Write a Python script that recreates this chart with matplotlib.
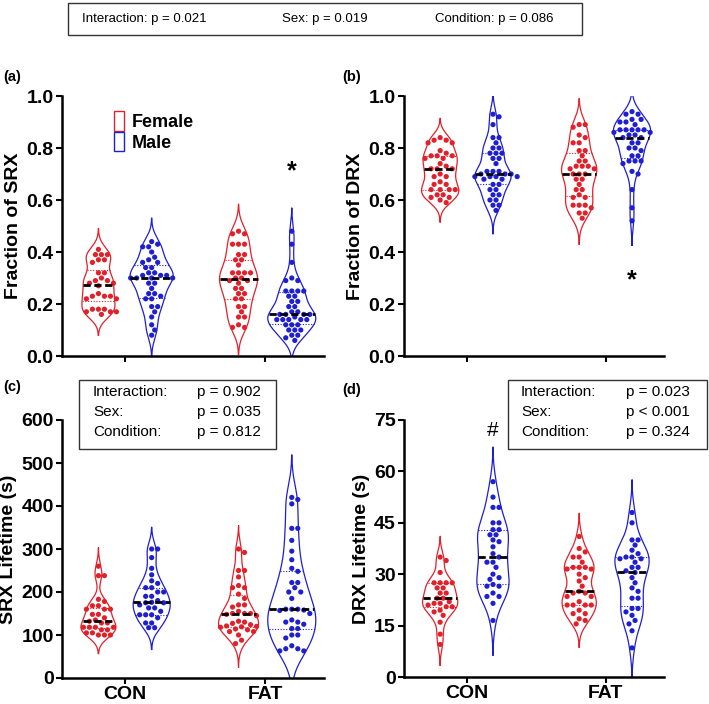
import numpy as np
import matplotlib
matplotlib.use('Agg')
import matplotlib.pyplot as plt
from matplotlib.patches import Patch, Rectangle

plt.rcParams['font.family'] = ['Liberation Sans', 'DejaVu Sans']

# ---------------- data ----------------
conditions = ['CON', 'FAT']
sexes = ['Female', 'Male']

srx_frac_female_con = [0.41, 0.39, 0.39, 0.39, 0.37, 0.37, 0.36, 0.32, 0.32, 0.30, 0.29, 0.29, 0.28, 0.28,
                       0.27, 0.24, 0.23, 0.23, 0.23, 0.22, 0.22, 0.18, 0.18, 0.18, 0.17, 0.17, 0.17, 0.16]
srx_frac_male_con = [0.44, 0.43, 0.42, 0.42, 0.40, 0.38, 0.37, 0.36, 0.36, 0.34, 0.34, 0.32, 0.32, 0.31, 0.31,
                     0.31, 0.30, 0.30, 0.30, 0.30, 0.28, 0.28, 0.26, 0.24, 0.24, 0.23, 0.22, 0.22, 0.19, 0.19,
                     0.17, 0.15, 0.12, 0.10, 0.08]
srx_frac_female_fat = [0.48, 0.47, 0.47, 0.43, 0.43, 0.43, 0.39, 0.39, 0.37, 0.37, 0.35, 0.32, 0.32, 0.32, 0.32,
                       0.30, 0.30, 0.29, 0.29, 0.28, 0.26, 0.26, 0.24, 0.24, 0.22, 0.22, 0.19, 0.19, 0.17, 0.15,
                       0.15, 0.12, 0.11, 0.11]
srx_frac_male_fat = [0.48, 0.43, 0.36, 0.30, 0.29, 0.29, 0.25, 0.25, 0.25, 0.25, 0.23, 0.23, 0.21, 0.21, 0.19,
                     0.19, 0.17, 0.17, 0.16, 0.16, 0.16, 0.16, 0.15, 0.14, 0.14, 0.14, 0.14, 0.14, 0.12, 0.12,
                     0.12, 0.10, 0.10, 0.10, 0.08, 0.08, 0.07, 0.06]

drx_frac_female_con = [0.84, 0.83, 0.83, 0.82, 0.82, 0.79, 0.78, 0.77, 0.77, 0.77, 0.76, 0.76, 0.74, 0.73, 0.72,
                       0.72, 0.72, 0.70, 0.69, 0.69, 0.67, 0.66, 0.66, 0.64, 0.64, 0.64, 0.64, 0.62, 0.62, 0.61,
                       0.61, 0.60, 0.59]
drx_frac_male_con = [0.93, 0.92, 0.89, 0.84, 0.84, 0.82, 0.80, 0.80, 0.78, 0.78, 0.78, 0.76, 0.76, 0.74, 0.71,
                     0.71, 0.71, 0.70, 0.70, 0.70, 0.69, 0.69, 0.69, 0.69, 0.68, 0.68, 0.66, 0.66, 0.64, 0.64,
                     0.62, 0.62, 0.60, 0.60, 0.58, 0.58, 0.56]
drx_frac_female_fat = [0.89, 0.89, 0.88, 0.85, 0.84, 0.82, 0.82, 0.79, 0.79, 0.77, 0.75, 0.75, 0.73, 0.73, 0.73,
                       0.72, 0.72, 0.70, 0.70, 0.70, 0.68, 0.68, 0.66, 0.64, 0.64, 0.62, 0.61, 0.61, 0.58, 0.58,
                       0.58, 0.57, 0.55, 0.55, 0.53]
drx_frac_male_fat = [0.94, 0.93, 0.93, 0.91, 0.91, 0.90, 0.90, 0.89, 0.87, 0.87, 0.87, 0.87, 0.87, 0.86, 0.86,
                     0.85, 0.85, 0.84, 0.84, 0.82, 0.82, 0.80, 0.80, 0.79, 0.77, 0.77, 0.75, 0.75, 0.75, 0.74,
                     0.71, 0.70, 0.64, 0.57, 0.52]

srx_life_female_con = [260, 238, 238, 183, 178, 168, 168, 160, 160, 160, 148, 148, 140, 135, 132, 128, 128,
                       118, 118, 118, 118, 112, 112, 105, 105, 100, 100, 100]
srx_life_male_con = [300, 300, 280, 255, 240, 226, 220, 210, 210, 200, 200, 190, 190, 180, 176, 175, 175, 170,
                     163, 163, 155, 147, 147, 147, 140, 128, 128, 117, 117]
srx_life_female_fat = [300, 292, 250, 250, 235, 215, 210, 210, 195, 185, 170, 170, 165, 155, 150, 150, 150, 148,
                       145, 132, 130, 127, 124, 121, 120, 119, 118, 114, 112, 108, 108, 100, 88, 80]
srx_life_male_fat = [420, 415, 405, 348, 348, 320, 295, 275, 255, 248, 222, 222, 210, 200, 200, 185, 160, 160,
                     160, 158, 157, 150, 135, 130, 130, 125, 115, 115, 100, 100, 93, 75, 68, 68, 63, 63]

drx_life_female_con = [35, 34, 30.5, 27.5, 27.5, 27.5, 27.5, 26, 26, 24.5, 24.5, 23, 23, 22, 21.5, 21.5,
                       21, 20.5, 20.5, 19.5, 19, 18, 16, 12.5, 9.5]
drx_life_male_con = [57, 52.5, 49.5, 49.5, 45, 45, 43, 43, 41.5, 41.5, 40, 39.5, 38, 36, 35, 33.5, 33.5, 32,
                     30, 29, 28.5, 27, 26.5, 26.5, 24.5, 23.5, 23.5, 21.5, 16.5]
drx_life_female_fat = [41, 37.5, 36.5, 35, 35, 33.5, 32, 32, 32, 31.5, 31.5, 30, 29, 28, 26.5, 25, 24.5, 24.5,
                       23.5, 23.5, 22, 21, 21, 21, 21, 19.5, 18.5, 18.5, 17, 16.5, 15.5]
drx_life_male_fat = [48, 45, 40, 40, 38.5, 37, 36, 35, 35, 34.5, 34.5, 33.5, 32, 32, 31, 30.5, 29, 27.5, 26,
                     25, 23, 23, 20, 20, 19, 18, 16.5, 15.5, 13.5, 8.5]

anova_top = ['Interaction: p = 0.021', 'Sex: p = 0.019', 'Condition: p = 0.086']
anova_c_names = ['Interaction:', 'Sex:', 'Condition:']
anova_c_values = ['p = 0.902', 'p = 0.035', 'p = 0.812']
anova_d_values = ['p = 0.023', 'p < 0.001', 'p = 0.324']

# ---------------- style ----------------
RED = '#E3202A'
BLUE = '#1E1ED2'
W, H = 709, 704
fig = plt.figure(figsize=(W / 100, H / 100), dpi=100)


def fig_rect(x0, y0, x1, y1):
    return [x0 / W, 1 - y1 / H, (x1 - x0) / W, (y1 - y0) / H]


def kde(vals, lo_clip, bw_scale=0.75, cut=2.6):
    d = np.asarray(vals, float)
    n = len(d)
    h = bw_scale * d.std(ddof=1) * n ** (-0.2)
    g = np.linspace(max(d.min() - cut * h, lo_clip), d.max() + cut * h, 400)
    dens = np.exp(-0.5 * ((g[:, None] - d[None, :]) / h) ** 2).sum(axis=1)
    return g, dens / dens.max()


def swarm(vals, ypx, step_px=3.0, dmin=5.6):
    vals = np.asarray(vals, float)
    order = np.argsort(-vals, kind='stable')
    placed = []
    offs = np.zeros(len(vals))
    cands = [0.0]
    for j in range(1, 30):
        cands += [j * step_px, -j * step_px]
    for i in order:
        y = vals[i] * ypx
        for c in cands:
            if all((px - c) ** 2 + (py - y) ** 2 >= dmin ** 2 for (px, py) in placed):
                offs[i] = c
                placed.append((c, y))
                break
    return offs


def draw_panel(ax, series, widths_px, ylim, xpx, ypx):
    positions = [-0.19, 0.19, 0.81, 1.19]
    colors = [RED, BLUE, RED, BLUE]
    for vals, pos, col, wpx in zip(series, positions, colors, widths_px):
        g, dens = kde(vals, ylim[0])
        hw = wpx / 2 / xpx
        xs = np.concatenate([pos - dens * hw, (pos + dens * hw)[::-1]])
        ys = np.concatenate([g, g[::-1]])
        ax.plot(xs, ys, color=col, lw=0.9, zorder=2, solid_joinstyle='round')
        med = np.median(vals)
        q1, q3 = np.percentile(vals, [25, 75])
        for q in (q1, q3):
            w = np.interp(q, g, dens) * hw
            ax.plot([pos - w, pos + w], [q, q], color=col, lw=0.8, ls=(0, (1, 1.5)), zorder=2)
        offs = swarm(vals, ypx) / xpx
        ax.scatter(pos + offs, vals, s=14, color=col, edgecolors='none', zorder=3)
        w = np.interp(med, g, dens) * hw
        ax.plot([pos - w, pos + w], [med, med], color='black', lw=2.0, ls=(0, (2.6, 1.3)), zorder=4)
    ax.set_xlim(-0.45, 1.42)
    ax.set_ylim(*ylim)
    for s in ['top', 'right']:
        ax.spines[s].set_visible(False)
    for s in ['left', 'bottom']:
        ax.spines[s].set_linewidth(1.8)
    ax.tick_params(direction='out', length=4, width=1.5, labelsize=14, pad=2)
    ax.set_xticks([0, 1])


axA = fig.add_axes(fig_rect(62, 96, 324, 356))
axB = fig.add_axes(fig_rect(404, 96, 664, 356))
axC = fig.add_axes(fig_rect(62, 420, 324, 678))
axD = fig.add_axes(fig_rect(404, 420, 664, 677))

draw_panel(axA, [srx_frac_female_con, srx_frac_male_con, srx_frac_female_fat, srx_frac_male_fat],
           [33, 43, 38, 48], (0, 1.0), 140, 260)
draw_panel(axB, [drx_frac_female_con, drx_frac_male_con, drx_frac_female_fat, drx_frac_male_fat],
           [37, 36, 35, 37], (0, 1.0), 138, 260)
draw_panel(axC, [srx_life_female_con, srx_life_male_con, srx_life_female_fat, srx_life_male_fat],
           [35, 37, 40, 48], (0, 600), 140, 258 / 600)
draw_panel(axD, [drx_life_female_con, drx_life_male_con, drx_life_female_fat, drx_life_male_fat],
           [35, 32, 34, 34], (0, 75), 138, 257 / 75)

for ax in (axA, axB):
    ax.set_yticks(np.arange(0, 1.01, 0.2))
    ax.set_yticklabels([f'{v:.1f}' for v in np.arange(0, 1.01, 0.2)], fontweight='bold', fontsize=14)
    ax.set_xticklabels([])
axC.set_yticks(np.arange(0, 601, 100))
axC.set_yticklabels([str(v) for v in range(0, 601, 100)], fontweight='bold', fontsize=14)
axD.set_yticks(np.arange(0, 76, 15))
axD.set_yticklabels([str(v) for v in range(0, 76, 15)], fontweight='bold', fontsize=14)
for ax in (axC, axD):
    ax.set_xticklabels(conditions, fontweight='bold', fontsize=14)

ylabels = ['Fraction of SRX', 'Fraction of DRX', 'SRX Lifetime (s)', 'DRX Lifetime (s)']
for ax, lab in zip((axA, axB, axC, axD), ylabels):
    ax.set_ylabel(lab, fontsize=14, fontweight='bold', labelpad=3)

# panel letters
for (x, y, t) in [(3, 77, '(a)'), (342, 77, '(b)'), (3, 387, '(c)'), (342, 390, '(d)')]:
    fig.text(x / W, 1 - y / H, t, fontsize=10.5, fontweight='bold', va='center', ha='left')

# significance markers
axA.text(1.19, 0.71, '*', fontsize=18, fontweight='bold', ha='center', va='center')
axB.text(1.19, 0.29, '*', fontsize=18, fontweight='bold', ha='center', va='center')
axD.text(0.19, 72, '#', fontsize=15, ha='center', va='center')

# legend
handles = [Patch(facecolor='none', edgecolor=RED, lw=1.0, label=sexes[0]),
           Patch(facecolor='none', edgecolor=BLUE, lw=1.0, label=sexes[1])]
leg = axA.legend(handles=handles, loc='upper left', bbox_to_anchor=(0.135, 1.005), frameon=False,
                 handlelength=0.6, handleheight=1.3, handletextpad=0.4, labelspacing=0.05,
                 prop={'weight': 'bold', 'size': 13})

# top box
fig.patches.append(Rectangle((68 / W, 1 - 35 / H), 514 / W, 32 / H, transform=fig.transFigure,
                             fill=False, edgecolor='#333333', lw=1.0))
for x, t in zip([82, 282, 435], anova_top):
    fig.text(x / W, 1 - 19 / H, t, fontsize=9.5, va='center', ha='left')

# panel c / d boxes
for (bx0, bx1, lx, vx, vals) in [(79, 276, 93, 197, anova_c_values), (508, 707, 521, 626, anova_d_values)]:
    fig.patches.append(Rectangle((bx0 / W, 1 - 449 / H), (bx1 - bx0) / W, 69 / H, transform=fig.transFigure,
                                 fill=False, edgecolor='#333333', lw=1.0))
    for i, (nm, v) in enumerate(zip(anova_c_names, vals)):
        y = 392 + 20 * i
        fig.text(lx / W, 1 - y / H, nm, fontsize=11, va='center', ha='left')
        fig.text(vx / W, 1 - y / H, v, fontsize=11, va='center', ha='left')

fig.savefig('out.png', dpi=100)
